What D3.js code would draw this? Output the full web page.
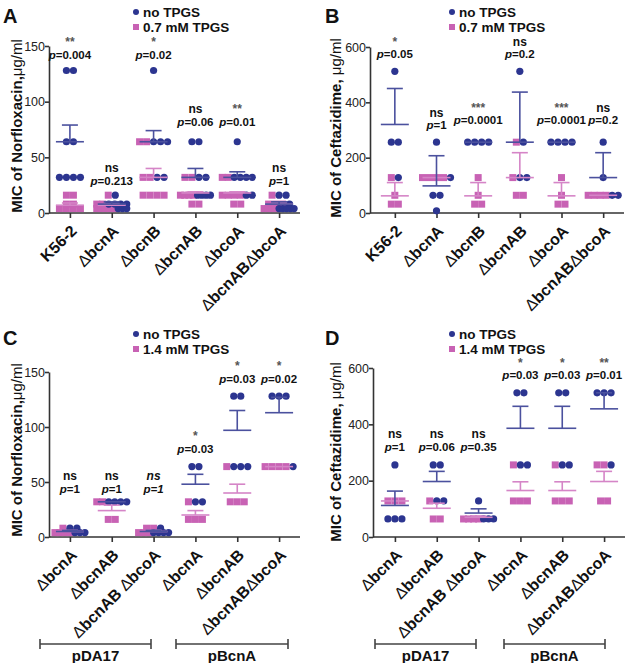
<!DOCTYPE html>
<html>
<head>
<meta charset="utf-8">
<script src="https://cdn.jsdelivr.net/npm/d3@7"></script>
<style>
  body { margin: 0; background: #fff; }
  svg text { font-family: "Liberation Sans", Arial, Helvetica, sans-serif; }
</style>
</head>
<body>
<svg id="fig" width="625" height="663"></svg>
<script>

/* MIC scatter panels A-D: no TPGS (dots) vs TPGS (squares) */

// ---- data ----
const strainsTop = ["K56-2", "ΔbcnA", "ΔbcnB", "ΔbcnAB", "ΔbcoA", "ΔbcnABΔbcoA"];
const strainsBottom = ["ΔbcnA", "ΔbcnAB", "ΔbcnAB ΔbcoA", "ΔbcnA", "ΔbcnAB", "ΔbcnABΔbcoA"];
const plasmids = ["pDA17", "pBcnA"];

// panel A : norfloxacin, 0.7 mM TPGS
const aNo = [[128,128,64,64,32,32,32,32], [16,8,8,8,8,4,4,4], [128,64,64,64,32,32], [64,64,32,32,16,16,16,16], [64,32,32,32,32,16,16], [16,16,8,4,4,4,4,4]];
const aTp = [[16,16,8,8,4,4,4,4], [16,8,8,4,4,4,4,4], [64,64,32,32,16,16,16,16], [32,32,16,16,16,16,8,8], [32,32,16,16,16,16,8,8], [16,8,8,8,4,4,4,4]];
const aNoMean = [64, 8, 64, 32, 32, 8];
const aNoHi   = [79, 10, 74, 40, 37, 10];
const aTpMean = [7, 7, 32, 18, 18, 8];
const aTpHi   = [9, 8, 40, 19, 19, 9];
const aStars = ["**", "ns", "*", "ns", "**", "ns"];
const aP     = ["0.004", "0.213", "0.02", "0.06", "0.01", "1"];
const aNoteAt = [143, 30, 143, 83, 83, 30];

// panel B : ceftazidime, 0.7 mM TPGS
const bNo = [[512,256,256,128], [256,128,64,64,8], [256,256,256,256], [512,256,128,128], [256,256,256,256], [256,128,64,64]];
const bTp = [[128,64,32,32], [128,128,128,128], [128,64,32,32], [256,128,64,64], [128,64,32,32], [64,64,64,64]];
const bNoMean = [320, 98, 256, 256, 256, 128];
const bNoHi   = [450, 207, 256, 437, 256, 218];
const bTpMean = [62, 128, 62, 128, 62, 64];
const bTpHi   = [110, 128, 110, 218, 110, 64];
const bStars = ["*", "ns", "***", "ns", "***", "ns"];
const bP     = ["0.05", "1", "0.0001", "0.2", "0.0001", "0.2"];
const bNoteAt = [578, 320, 338, 578, 338, 338];

// panel C : norfloxacin, 1.4 mM TPGS
const cNo = [[8,8,4,4,4], [32,32,32,32], [8,4,4,4,4], [64,64,32,32], [128,128,64,64,64], [128,128,128,64]];
const cTp = [[8,4,4,4,4], [32,32,16,16], [8,8,4,4,4], [32,16,16,16], [64,32,32,32], [64,64,64,64]];
const cNoMean = [5, 32, 5, 48, 97, 113];
const cNoHi   = [6, 32, 6, 57, 115, 127];
const cTpMean = [5, 24, 5, 20, 40, 64];
const cTpHi   = [6, 29, 6, 24, 48, 64];
const cStars = ["ns", "ns", "ns", "*", "*", "*"];
const cP     = ["1", "1", "1", "0.03", "0.03", "0.02"];
const cNoteAt = [45, 45, 45, 81, 145, 145];

// panel D : ceftazidime, 1.4 mM TPGS
const dNo = [[256,64,64,64], [256,256,128,128], [128,64,64,64], [512,512,256,256], [512,512,256,256], [512,512,512,256]];
const dTp = [[128,128,128], [128,64,64], [64,64,64,64], [256,128,128,128], [256,128,128,128], [256,256,128,128]];
const dNoMean = [112, 197, 85, 386, 386, 455];
const dNoHi   = [163, 233, 100, 464, 464, 512];
const dTpMean = [128, 102, 70, 165, 165, 197];
const dTpHi   = [128, 120, 74, 196, 196, 233];
const dStars = ["ns", "ns", "ns", "*", "*", "**"];
const dP     = ["1", "0.06", "0.35", "0.03", "0.03", "0.01"];
const dNoteAt = [324, 324, 324, 578, 578, 578];


// ---- style ----
const blue = "#2c3590", pink = "#c862b4";
const blueLn = "#4b519e", pinkLn = "#d585c7";
const axisCol = "#333";

const svg = d3.select("#fig");


// spread points of same value side by side (pink first, then blue)
function swarm(noVals, tpVals){
    let pts = [];
    tpVals.forEach(v => pts.push({v: v, s: "tp"}));
    noVals.forEach(v => pts.push({v: v, s: "no"}));
    let groups = d3.group(pts, d => d.v);
    groups.forEach(list => {
        let n = list.length;
        let step = n > 1 ? Math.min(7, 30 / (n - 1)) : 0;
        list.forEach((d, k) => d.dx = (k - (n - 1) / 2) * step);
    });
    return pts;
}


function drawPanel(p){

    const g = svg.append("g");

    const y = d3.scaleLinear().domain([0, p.yMax]).range([p.y0, p.y1]);
    const x = d3.scalePoint().domain(d3.range(p.cats.length)).range(p.xs).padding(0.5);

    // y axis
    const yAx = g.append("g")
        .attr("transform", `translate(${p.axisX},0)`)
        .call(d3.axisLeft(y).tickValues(p.yTicks).tickSize(4).tickSizeOuter(0));
    yAx.selectAll("path,line").attr("stroke", axisCol).attr("stroke-width", 1.6);
    yAx.selectAll("text").attr("font-size", 12.5).attr("fill", "#222").attr("x", -4);

    // x axis
    const xAx = g.append("g")
        .attr("transform", `translate(0,${p.y0})`)
        .call(d3.axisBottom(x).tickSize(5).tickFormat(""));
    xAx.select(".domain").remove();
    xAx.selectAll("line").attr("stroke", axisCol).attr("stroke-width", 1.6);
    g.append("line")
        .attr("x1", p.axisX).attr("x2", p.xs[1])
        .attr("y1", p.y0).attr("y2", p.y0)
        .attr("stroke", axisCol).attr("stroke-width", 1.6);

    // category labels, rotated
    p.cats.forEach((c, i) => {
        const t = g.append("text")
            .attr("transform", `translate(${x(i) + 8},${p.y0 + 19}) rotate(-45)`)
            .attr("text-anchor", "end")
            .attr("font-size", 16).attr("font-weight", "bold").attr("fill", "#111");
        c.split(/(Δ)/).filter(s => s.length).forEach(s => {
            t.append("tspan").text(s).attr("font-weight", s === "Δ" ? "normal" : "bold");
        });
    });

    // points
    p.cats.forEach((c, i) => {
        const pts = swarm(p.no[i], p.tp[i]);
        const cg = g.append("g");
        cg.selectAll("rect").data(pts.filter(d => d.s === "tp")).join("rect")
            .attr("x", d => x(i) + d.dx - 3.5).attr("y", d => y(d.v) - 3.5)
            .attr("width", 7).attr("height", 7).attr("fill", pink);
        cg.selectAll("circle").data(pts.filter(d => d.s === "no")).join("circle")
            .attr("cx", d => x(i) + d.dx).attr("cy", d => y(d.v))
            .attr("r", 3.6).attr("fill", blue);
    });

    // mean lines with upper error whisker
    function meanBar(i, m, hi, col){
        const cx = x(i);
        g.append("line").attr("x1", cx - 14).attr("x2", cx + 14)
            .attr("y1", y(m)).attr("y2", y(m)).attr("stroke", col).attr("stroke-width", 1.6);
        if (hi > m){
            g.append("line").attr("x1", cx).attr("x2", cx)
                .attr("y1", y(m)).attr("y2", y(hi)).attr("stroke", col).attr("stroke-width", 1.6);
            g.append("line").attr("x1", cx - 8).attr("x2", cx + 8)
                .attr("y1", y(hi)).attr("y2", y(hi)).attr("stroke", col).attr("stroke-width", 1.6);
        }
    }
    p.cats.forEach((c, i) => {
        meanBar(i, p.tpMean[i], p.tpHi[i], pinkLn);
        meanBar(i, p.noMean[i], p.noHi[i], blueLn);
    });

    // significance notes
    p.cats.forEach((c, i) => {
        const yy = y(p.noteAt[i]);
        const it = p.italic && p.italic[i];
        g.append("text").attr("x", x(i)).attr("y", yy - 7.5)
            .attr("text-anchor", "middle").attr("font-size", 12).attr("font-weight", "bold")
            .attr("font-style", it ? "italic" : "normal")
            .attr("fill", p.stars[i] === "ns" ? "#111" : "#555")
            .text(p.stars[i]);
        const t = g.append("text").attr("x", x(i)).attr("y", yy + 5)
            .attr("text-anchor", "middle").attr("font-size", 11.5).attr("font-weight", "bold")
            .attr("fill", "#111").attr("font-style", it ? "italic" : "normal");
        t.append("tspan").attr("font-style", "italic").text("p");
        t.append("tspan").text("=" + p.pv[i]);
    });

    // panel letter
    g.append("text").attr("x", p.letterPos[0]).attr("y", p.letterPos[1])
        .attr("font-size", 20).attr("font-weight", "bold").attr("fill", "#111").text(p.letter);

    // legend
    g.append("circle").attr("cx", p.leg[0]).attr("cy", p.leg[1]).attr("r", 3).attr("fill", blue);
    g.append("text").attr("x", p.leg[0] + 7).attr("y", p.leg[1] + 5)
        .attr("font-size", 13.5).attr("font-weight", "bold").attr("fill", "#111").text("no TPGS");
    g.append("rect").attr("x", p.leg[0] - 3).attr("y", p.leg[1] + 12).attr("width", 6).attr("height", 6).attr("fill", pink);
    g.append("text").attr("x", p.leg[0] + 7).attr("y", p.leg[1] + 20)
        .attr("font-size", 13.5).attr("font-weight", "bold").attr("fill", "#111").text(p.legLabel);

    // y axis title
    const yt = g.append("text")
        .attr("transform", `translate(${p.yLab[0]},${p.yLab[1]}) rotate(-90)`)
        .attr("text-anchor", "middle").attr("font-size", 15).attr("fill", "#111");
    yt.append("tspan").attr("font-weight", "bold").text(p.yTitle[0]);
    yt.append("tspan").attr("font-weight", "normal").text(p.yTitle[1]);

    // plasmid brackets
    if (p.brackets){
        p.brackets.forEach((b, k) => {
            g.append("path")
                .attr("d", `M${b[0]},${p.brY - 5}V${p.brY + 5}M${b[0]},${p.brY}H${b[1]}M${b[1]},${p.brY - 5}V${p.brY + 5}`)
                .attr("stroke", "#444").attr("stroke-width", 1.6).attr("fill", "none");
            g.append("text").attr("x", (b[0] + b[1]) / 2).attr("y", p.brY + 17)
                .attr("text-anchor", "middle").attr("font-size", 15).attr("font-weight", "bold")
                .attr("fill", "#111").text(plasmids[k]);
        });
    }
}


drawPanel({
    cats: strainsTop, no: aNo, tp: aTp, noMean: aNoMean, noHi: aNoHi, tpMean: aTpMean, tpHi: aTpHi,
    stars: aStars, pv: aP, noteAt: aNoteAt,
    axisX: 49, xs: [49, 300], y0: 213, y1: 46, yMax: 150, yTicks: [0, 50, 100, 150],
    letter: "A", letterPos: [3, 23], leg: [136, 12], legLabel: "0.7 mM TPGS",
    yTitle: ["MIC of Norfloxacin,", "μg/ml"], yLab: [22, 126]
});

drawPanel({
    cats: strainsTop, no: bNo, tp: bTp, noMean: bNoMean, noHi: bNoHi, tpMean: bTpMean, tpHi: bTpHi,
    stars: bStars, pv: bP, noteAt: bNoteAt,
    axisX: 370, xs: [374, 624], y0: 213, y1: 47, yMax: 600, yTicks: [0, 200, 400, 600],
    letter: "B", letterPos: [325, 23], leg: [452, 12], legLabel: "0.7 mM TPGS",
    yTitle: ["MIC of Ceftazidime, ", "μg/ml"], yLab: [341, 128]
});

drawPanel({
    cats: strainsBottom, no: cNo, tp: cTp, noMean: cNoMean, noHi: cNoHi, tpMean: cTpMean, tpHi: cTpHi,
    stars: cStars, pv: cP, noteAt: cNoteAt, italic: [false, false, true, false, false, false],
    axisX: 49, xs: [49, 300], y0: 537, y1: 372, yMax: 150, yTicks: [0, 50, 100, 150],
    letter: "C", letterPos: [3, 345], leg: [136, 334], legLabel: "1.4 mM TPGS",
    yTitle: ["MIC of Norfloxacin,", "μg/ml"], yLab: [22, 450],
    brackets: [[40, 151], [176, 288]], brY: 644
});

drawPanel({
    cats: strainsBottom, no: dNo, tp: dTp, noMean: dNoMean, noHi: dNoHi, tpMean: dTpMean, tpHi: dTpHi,
    stars: dStars, pv: dP, noteAt: dNoteAt,
    axisX: 373, xs: [374, 625], y0: 537, y1: 368, yMax: 600, yTicks: [0, 200, 400, 600],
    letter: "D", letterPos: [325, 345], leg: [452, 334], legLabel: "1.4 mM TPGS",
    yTitle: ["MIC of Ceftazidime, ", "μg/ml"], yLab: [341, 452],
    brackets: [[375, 476], [504, 605]], brY: 644
});

</script>
</body>
</html>
